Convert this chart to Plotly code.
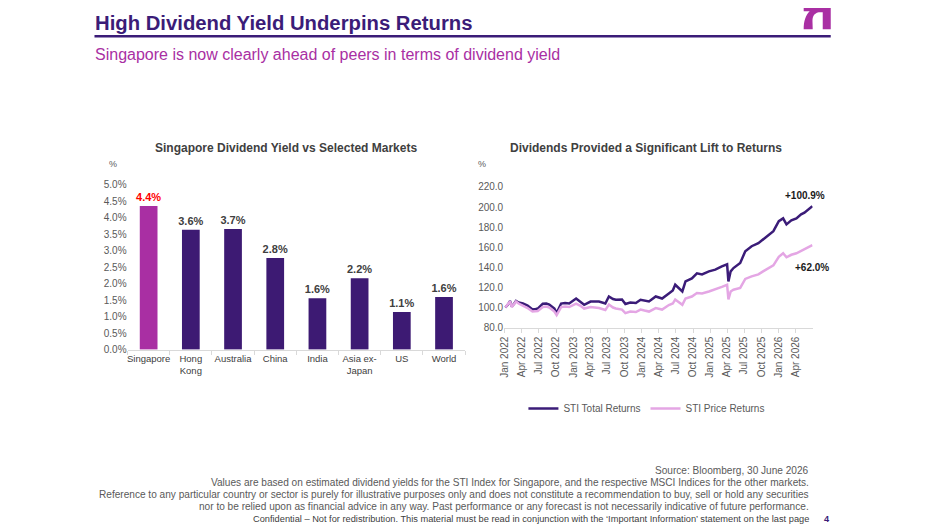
import plotly.graph_objects as go

# ---- bar chart data (dividend yield, %)
markets = ["Singapore", "Hong<br>Kong", "Australia", "China", "India", "Asia ex-<br>Japan", "US", "World"]
div_yield = [4.36, 3.64, 3.66, 2.78, 1.56, 2.17, 1.14, 1.60]

# ---- line chart data (rebased to 100)
dates = [
    "2022-01-03", "2022-01-17", "2022-01-28", "2022-02-07", "2022-02-18", "2022-03-01", "2022-03-15",
    "2022-04-07", "2022-05-02", "2022-05-28", "2022-06-15", "2022-06-25", "2022-07-22", "2022-08-10",
    "2022-08-26", "2022-09-22", "2022-10-04", "2022-10-28", "2022-11-18", "2022-12-10", "2023-01-16",
    "2023-02-06", "2023-02-28", "2023-04-03", "2023-05-18", "2023-06-21", "2023-07-10", "2023-08-01",
    "2023-08-16", "2023-09-18", "2023-10-06", "2023-11-01", "2023-12-01", "2023-12-26", "2024-01-16",
    "2024-02-09", "2024-03-16", "2024-04-19", "2024-05-25", "2024-06-15", "2024-06-28", "2024-08-05",
    "2024-08-22", "2024-09-25", "2024-10-22", "2024-11-18", "2024-12-25", "2025-01-28", "2025-03-04",
    "2025-04-01", "2025-04-08", "2025-04-20", "2025-05-05", "2025-06-10", "2025-07-07", "2025-08-10",
    "2025-09-15", "2025-10-10", "2025-11-06", "2025-12-04", "2026-01-02", "2026-01-25", "2026-02-12",
    "2026-03-10", "2026-04-06", "2026-05-01", "2026-05-19", "2026-06-30",
]
sti_total = [
    100.0, 103.0, 106.5, 101.0, 103.5, 106.5, 105.0,
    104.0, 102.0, 98.0, 98.5, 99.0, 103.7, 104.0,
    103.0, 99.0, 94.5, 104.0, 104.5, 104.0, 109.0,
    106.0, 102.7, 106.0, 106.0, 104.0, 111.0, 108.5,
    107.7, 108.0, 103.5, 105.0, 104.5, 107.7, 107.0,
    106.0, 111.0, 109.0, 114.0, 117.0, 122.7, 116.0,
    126.0, 129.0, 134.0, 133.0, 136.0, 137.7, 141.0,
    143.0, 126.0, 136.0, 139.3, 144.3, 156.0, 161.0,
    164.0, 167.7, 171.0, 176.0, 186.0, 188.7, 182.7,
    186.7, 188.7, 192.7, 194.3, 200.9,
]
sti_price = [
    100.0, 103.0, 106.0, 100.5, 103.0, 106.0, 104.0,
    102.0, 99.5, 96.0, 96.0, 96.5, 100.5, 101.0,
    100.0, 96.0, 92.5, 100.5, 101.0, 100.5, 104.0,
    102.0, 99.0, 100.5, 99.5, 97.5, 103.0, 100.0,
    99.0, 98.0, 94.5, 96.0, 95.5, 98.0, 97.0,
    96.0, 99.5, 98.0, 102.5, 104.0, 108.0, 102.7,
    109.0, 111.0, 114.5, 114.0, 116.0, 118.0, 120.5,
    122.7, 108.0, 116.0, 117.7, 119.5, 128.5, 131.0,
    133.0, 136.0, 139.0, 142.0, 150.5, 154.0, 150.0,
    152.5, 154.0, 156.5, 158.0, 162.0,
]

footnotes = [
    "Source: Bloomberg, 30 June 2026",
    "Values are based on estimated dividend yields for the STI Index for Singapore, and the respective MSCI Indices for the other markets.",
    "Reference to any particular country or sector is purely for illustrative purposes only and does not constitute a recommendation to buy, sell or hold any securities",
    "nor to be relied upon as financial advice in any way. Past performance or any forecast is not necessarily indicative of future performance.",
]
confidential = "Confidential \u2013 Not for redistribution. This material must be read in conjunction with the \u2018Important Information\u2019 statement on the last page"

W, H = 951, 529
SANS = "Liberation Sans, Arial, sans-serif"
DARK = "#3b1c78"
MAGENTA = "#a92fa3"
GREY = "#595959"

# page pixel -> paper fraction (corrected for the offset/scale seen in the render)
def px_x(v):
    v = (v - 1.6) / 1.0041
    return ((v - 12) / 0.989) / W


def px_y(v):
    return 1 - ((v - 12.8) / 0.979) / H


bar_colors = [MAGENTA] + ["#3d1a73"] * (len(markets) - 1)
label_colors = ["#ff0000"] + ["#404040"] * (len(markets) - 1)

fig = go.Figure()

fig.add_trace(go.Bar(
    x=markets, y=div_yield,
    marker=dict(color=bar_colors, line=dict(width=0)),
    texttemplate="<b>%{y:.1f}%</b>", textposition="outside", constraintext="none",
    textfont=dict(color=label_colors, size=11, family=SANS),
    cliponaxis=False, showlegend=False,
    xaxis="x", yaxis="y",
))

fig.add_trace(go.Scatter(
    x=dates, y=sti_total, mode="lines", name="STI Total Returns",
    line=dict(color="#3b1c78", width=2.5),
    xaxis="x2", yaxis="y2",
))
fig.add_trace(go.Scatter(
    x=dates, y=sti_price, mode="lines", name="STI Price Returns",
    line=dict(color="#e4a6e4", width=2.5),
    xaxis="x2", yaxis="y2",
))

tick_vals = []
tick_text = []
for yr in range(2022, 2027):
    for mo, mname in [(1, "Jan"), (4, "Apr"), (7, "Jul"), (10, "Oct")]:
        if yr == 2026 and mo > 4:
            break
        tick_vals.append(f"{yr}-{mo:02d}-01")
        tick_text.append(f"{mname} {yr}")

fig.update_layout(
    width=W, height=H,
    margin=dict(l=0, r=0, t=0, b=0),
    paper_bgcolor="white", plot_bgcolor="white",
    font=dict(family=SANS, color=GREY, size=10),
    bargap=0.58,
    xaxis=dict(
        domain=[px_x(128), px_x(465)], type="category",
        showline=True, linecolor="#d9d9d9", linewidth=1,
        ticks="outside", tickson="boundaries", ticklen=4, tickcolor="#d9d9d9",
        tickangle=0, tickfont=dict(size=9.5, color="#404040"), showgrid=False,
    ),
    yaxis=dict(
        domain=[px_y(349), px_y(184)], range=[0, 5.0], dtick=0.5,
        tickformat=".1f", ticksuffix="%", showgrid=False, zeroline=False,
        tickfont=dict(size=10, color=GREY),
    ),
    xaxis2=dict(
        domain=[px_x(504), px_x(812)], type="date",
        range=["2021-12-28", "2026-07-02"],
        tickvals=tick_vals, ticktext=tick_text, tickangle=-90,
        showline=True, linecolor="#d9d9d9", linewidth=1,
        ticks="outside", ticklen=4, tickcolor="#d9d9d9",
        tickfont=dict(size=10, color=GREY), showgrid=False,
        anchor="y2",
    ),
    yaxis2=dict(
        domain=[px_y(327), px_y(186)], range=[80, 220], dtick=20,
        tickformat=".1f", showgrid=False, zeroline=False,
        tickfont=dict(size=10, color=GREY), anchor="x2",
    ),
    legend=dict(
        orientation="h", x=px_x(646), y=px_y(408), xanchor="center", yanchor="middle",
        font=dict(size=10, color=GREY), itemwidth=30, tracegroupgap=0,
    ),
)

annotations = [
    dict(text="<b>High Dividend Yield Underpins Returns</b>", x=px_x(94), y=px_y(22),
         xanchor="left", yanchor="middle", font=dict(size=20.3, color=DARK)),
    dict(text="Singapore is now clearly ahead of peers in terms of dividend yield", x=px_x(94), y=px_y(53),
         xanchor="left", yanchor="middle", font=dict(size=16, color=MAGENTA)),
    dict(text="<b>Singapore Dividend Yield vs Selected Markets</b>", x=px_x(286), y=px_y(147),
         xanchor="center", yanchor="middle", font=dict(size=12, color="#404040")),
    dict(text="<b>Dividends Provided a Significant Lift to Returns</b>", x=px_x(646), y=px_y(147),
         xanchor="center", yanchor="middle", font=dict(size=12, color="#404040")),
    dict(text="%", x=px_x(113), y=px_y(163), xanchor="center", yanchor="middle",
         font=dict(size=9, color=GREY)),
    dict(text="%", x=px_x(482), y=px_y(163), xanchor="center", yanchor="middle",
         font=dict(size=9, color=GREY)),
    dict(text="<b>+100.9%</b>", xref="x2", yref="y2", x=dates[-1], y=sti_total[-1],
         xshift=-7, yshift=11, showarrow=False, font=dict(size=10, color="#1a1a1a")),
    dict(text="<b>+62.0%</b>", xref="x2", yref="y2", x=dates[-1], y=sti_price[-1],
         xshift=0, yshift=-22, showarrow=False, font=dict(size=10, color="#1a1a1a")),
]
for i, line in enumerate(footnotes):
    annotations.append(dict(text=line, x=px_x(810), y=px_y(470 + 12 * i), xanchor="right", yanchor="middle",
                            font=dict(size=10.1, color=GREY)))
annotations.append(dict(text=confidential, x=px_x(810), y=px_y(519), xanchor="right", yanchor="middle",
                        font=dict(size=9.25, color="#404040")))
annotations.append(dict(text="<b>4</b>", x=px_x(826), y=px_y(519), xanchor="center", yanchor="middle",
                        font=dict(size=9.2, color=DARK)))
for a in annotations:
    a.setdefault("xref", "paper")
    a.setdefault("yref", "paper")
    a.setdefault("showarrow", False)
fig.update_layout(annotations=annotations)

# header rule and logo
fig.add_shape(type="line", xref="paper", yref="paper", x0=px_x(95), x1=px_x(830), y0=px_y(35), y1=px_y(35),
              line=dict(color=DARK, width=2.5))
logo = [(803, 2), (830, 2), (830, 28), (822, 28), (822, 11), (818, 11)]
path = "M " + " L ".join(f"{px_x(x):.5f},{px_y(y):.5f}" for x, y in logo)
path += (f" C {px_x(810):.5f},{px_y(13):.5f} {px_x(812):.5f},{px_y(20):.5f} {px_x(812):.5f},{px_y(28):.5f}"
         f" L {px_x(803):.5f},{px_y(28):.5f}"
         f" C {px_x(803):.5f},{px_y(20):.5f} {px_x(805):.5f},{px_y(14):.5f} {px_x(809):.5f},{px_y(10):.5f}"
         f" L {px_x(803):.5f},{px_y(10):.5f} Z")
fig.add_shape(type="path", xref="paper", yref="paper", path=path, fillcolor=MAGENTA, line=dict(width=0))

fig.write_html("out.html")
